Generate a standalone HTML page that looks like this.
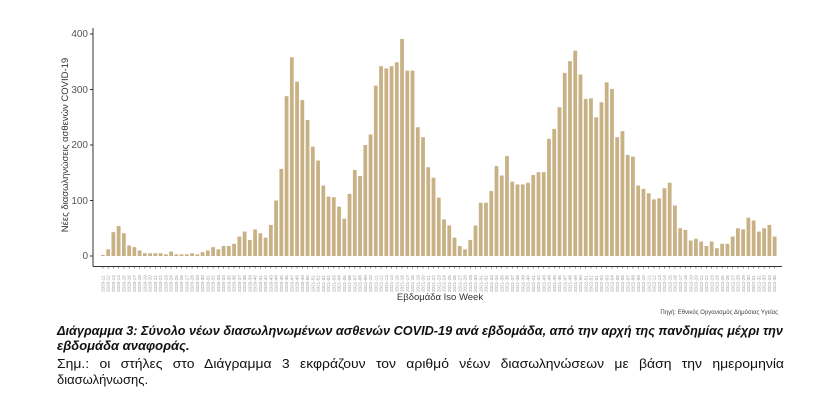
<!DOCTYPE html>
<html><head><meta charset="utf-8">
<style>
html,body{margin:0;padding:0;background:#fff;}
svg{display:block;}
text{font-family:"Liberation Sans","DejaVu Sans",sans-serif;}
</style></head>
<body>
<svg id="s" width="840" height="404" viewBox="0 0 840 404" xmlns="http://www.w3.org/2000/svg">
<g id="bars" fill="#c8b185"></g>
<g id="ticks" stroke="#444" stroke-width="0.6"></g>
<g id="xl" fill="#999" font-size="4.6"></g>
<line x1="93" y1="28" x2="93" y2="266.5" stroke="#333" stroke-width="1"/>
<line x1="93" y1="266.5" x2="782" y2="266.5" stroke="#333" stroke-width="1"/>
<g font-size="10" fill="#555" text-anchor="end">
<text x="88" y="259">0</text>
<text x="88" y="204">100</text>
<text x="88" y="148">200</text>
<text x="88" y="93">300</text>
<text x="88" y="37">400</text>
</g>
<g stroke="#333" stroke-width="1">
<line x1="90" y1="256" x2="93" y2="256"/><line x1="90" y1="200.5" x2="93" y2="200.5"/>
<line x1="90" y1="145" x2="93" y2="145"/><line x1="90" y1="89.5" x2="93" y2="89.5"/>
<line x1="90" y1="34" x2="93" y2="34"/>
</g>
<text transform="translate(68,145) rotate(-90)" font-size="9.5" fill="#333" text-anchor="middle">Νέες διασωληνώσεις ασθενών COVID-19</text>
<text x="440" y="300" font-size="9.5" fill="#333" text-anchor="middle">Εβδομάδα Iso Week</text>
<text x="778" y="314" font-size="6" fill="#444" text-anchor="end">Πηγή: Εθνικός Οργανισμός Δημόσιας Υγείας</text>
<text x="57" y="335" font-size="13" font-weight="bold" font-style="italic" fill="#111" textLength="726" lengthAdjust="spacingAndGlyphs">Διάγραμμα 3: Σύνολο νέων διασωληνωμένων ασθενών COVID-19 ανά εβδομάδα, από την αρχή της πανδημίας μέχρι την</text>
<text x="57" y="350" font-size="13" font-weight="bold" font-style="italic" fill="#111">εβδομάδα αναφοράς.</text>
<text x="57" y="368" font-size="13" fill="#111" textLength="727" lengthAdjust="spacingAndGlyphs" word-spacing="6">Σημ.:  οι  στήλες  στο  Διάγραμμα  3  εκφράζουν  τον  αριθμό  νέων  διασωληνώσεων  με  βάση  την  ημερομηνία</text>
<text x="57" y="384" font-size="13" fill="#111">διασωλήνωσης.</text>
</svg>
<script>
var v=[2,12,43,54,41,19,16,10,5,5,5,5,3,8,3,3,3,5,3,7,10,16,12,18,18,22,35,44,29,48,41,33,56,100,157,288,358,314,281,245,197,172,127,107,106,89,67,112,155,144,200,219,307,342,338,342,349,391,334,334,
232,214,160,141,105,66,55,33,18,12,29,55,96,96,117,162,145,180,134,129,129,132,146,151,151,211,229,268,330,351,370,327,283,284,250,277,313,301,214,225,182,179,127,121,113,102,104,122,132,91,50,47,28,31,26,18,26,14,22,22,35,50,48,69,64,44,50,56,35];
var NS="http://www.w3.org/2000/svg";
var n=v.length,x0=101,x1=778,st=(x1-x0)/n,w=st*0.72;
var b=document.getElementById("bars"),t=document.getElementById("ticks"),xl=document.getElementById("xl");
for(var i=0;i<n;i++){
 var x=x0+i*st,h=v[i]*0.555;
 var r=document.createElementNS(NS,"rect");
 r.setAttribute("x",x.toFixed(2));r.setAttribute("y",(256-h).toFixed(2));
 r.setAttribute("width",w.toFixed(2));r.setAttribute("height",h.toFixed(2));b.appendChild(r);
 var c=x+w/2;
 var l=document.createElementNS(NS,"line");
 l.setAttribute("x1",c);l.setAttribute("x2",c);l.setAttribute("y1",266.5);l.setAttribute("y2",268.5);t.appendChild(l);
 var tx=document.createElementNS(NS,"text");
 tx.setAttribute("transform","translate("+(c+1.6)+",292) rotate(-90)");
 tx.textContent=(i<40?"2020":i<92?"2021":"2022")+"-"+(((i+10)%52)+1<10?"0":"")+(((i+10)%52)+1);
 xl.appendChild(tx);
}
</script>
</body></html>
